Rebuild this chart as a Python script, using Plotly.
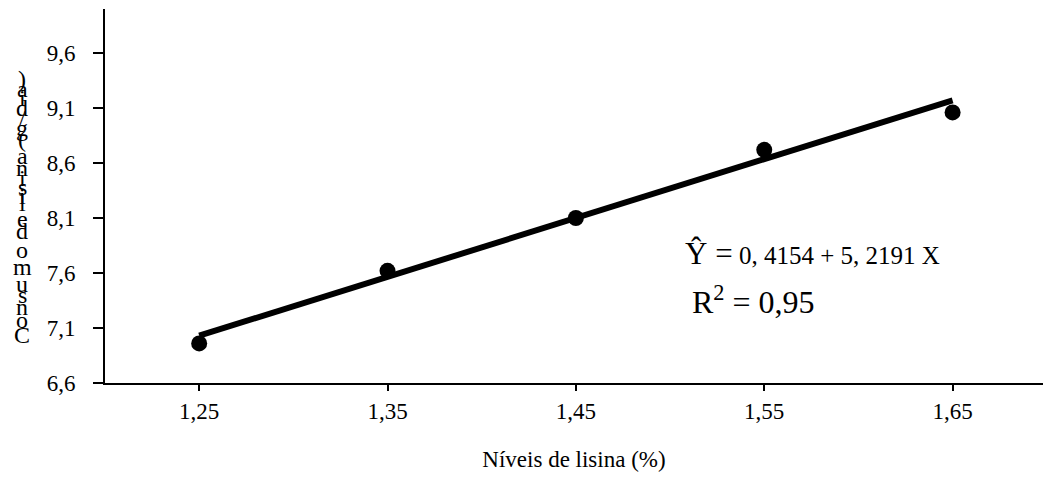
import plotly.graph_objects as go

# ---- data ----
lisina_levels = [1.25, 1.35, 1.45, 1.55, 1.65]
consumo_lisina = [6.96, 7.62, 8.10, 8.72, 9.06]
trend_x = [1.25, 1.65]
trend_y = [7.03, 9.17]
x_tick_vals = [1.25, 1.35, 1.45, 1.55, 1.65]
x_tick_text = ["1,25", "1,35", "1,45", "1,55", "1,65"]
y_tick_vals = [6.6, 7.1, 7.6, 8.1, 8.6, 9.1, 9.6]
y_tick_text = ["6,6", "7,1", "7,6", "8,1", "8,6", "9,1", "9,6"]
x_title = "Níveis de lisina (%)"
y_title = "Consumo de lisina (g/dia)"
eq_lhs = "Ŷ ="
eq_rhs = "0, 4154 + 5, 2191 X"
r2_text = "R<sup>2</sup> = 0,95"

FONT = "Liberation Serif"
W, H = 1043, 477
ML, MR, MT, MB = 105, 0, 9, 94
AXIS_Y = H - MB  # pixel row of the x axis

fig = go.Figure()
fig.add_trace(go.Scatter(x=trend_x, y=trend_y, mode="lines",
                         line=dict(color="black", width=6), hoverinfo="skip",
                         showlegend=False))
fig.add_trace(go.Scatter(x=lisina_levels, y=consumo_lisina, mode="markers",
                         marker=dict(color="black", size=16), showlegend=False))

fig.update_layout(
    width=W, height=H, margin=dict(l=ML, r=MR, t=MT, b=MB),
    paper_bgcolor="white", plot_bgcolor="white",
    font=dict(family=FONT, color="black", size=23),
    xaxis=dict(range=[1.2, 1.698], tickvals=x_tick_vals, ticktext=x_tick_text,
               showgrid=False, zeroline=False, showline=True, linecolor="black",
               linewidth=2, ticks="outside", ticklen=6, tickwidth=2, tickcolor="black",
               tickfont=dict(size=23, family=FONT),
               title=dict(text=x_title, font=dict(size=23, family=FONT), standoff=28)),
    yaxis=dict(range=[6.6, 10.0], tickvals=y_tick_vals, ticktext=y_tick_text,
               showgrid=False, zeroline=False, showline=True, linecolor="black",
               linewidth=2, ticks="outside", ticklen=10, tickwidth=2, tickcolor="black",
               ticklabelstandoff=13,
               tickfont=dict(size=23, family=FONT)),
)

# stacked y-axis title characters (bottom to top), advanced by glyph widths
widths = {"C": 667, "o": 500, "n": 500, "s": 389, "u": 500, "m": 778, " ": 250,
          "d": 500, "e": 444, "l": 278, "i": 278, "a": 444, "(": 333, "g": 500,
          "/": 278, ")": 333}
glyph_fs = 24
step_fs = 26
pos = (AXIS_Y - 335) - widths["C"] * step_fs / 2000.0
for ch in y_title:
    w = widths.get(ch, 500) * step_fs / 1000.0
    if ch != " ":
        fig.add_annotation(text=ch, xref="paper", yref="paper", x=0, y=0,
                           xshift=22 - ML, yshift=pos + w / 2, showarrow=False,
                           xanchor="center", yanchor="middle",
                           font=dict(size=glyph_fs, family=FONT, color="black"))
    pos += w

# equation annotations
fig.add_annotation(text=eq_lhs, xref="paper", yref="paper", x=0, y=0,
                   xshift=683 - ML, yshift=AXIS_Y - 253,
                   showarrow=False, xanchor="left", yanchor="middle",
                   font=dict(size=31, family=FONT, color="black"))
fig.add_annotation(text=eq_rhs, xref="paper", yref="paper", x=0, y=0,
                   xshift=737 - ML, yshift=AXIS_Y - 255,
                   showarrow=False, xanchor="left", yanchor="middle",
                   font=dict(size=25, family=FONT, color="black"))
fig.add_annotation(text=r2_text, xref="paper", yref="paper", x=0, y=0,
                   xshift=690 - ML, yshift=AXIS_Y - 300,
                   showarrow=False, xanchor="left", yanchor="middle",
                   font=dict(size=32, family=FONT, color="black"))

fig.write_html("out.html")
